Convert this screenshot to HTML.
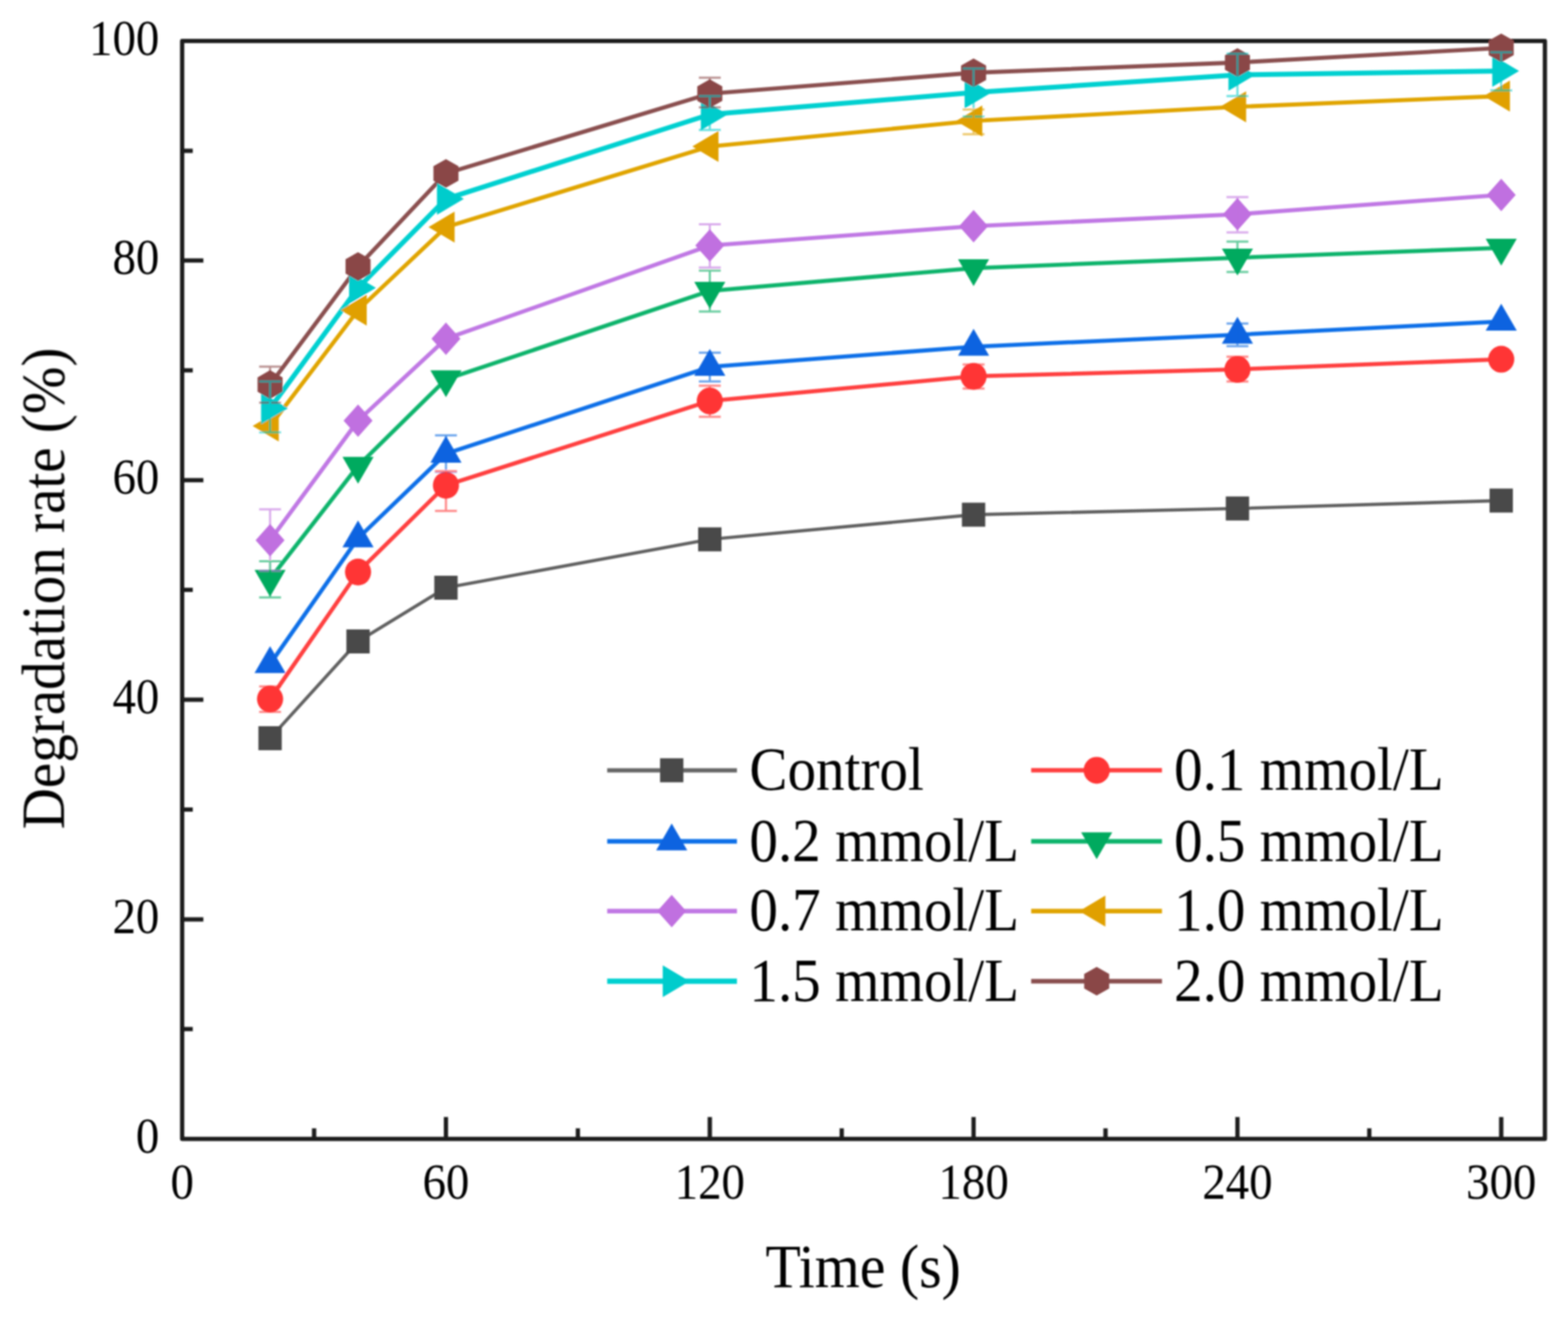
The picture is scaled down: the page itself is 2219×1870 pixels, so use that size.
<!DOCTYPE html><html><head><meta charset="utf-8"><title>Degradation rate vs time</title>
<style>html,body{margin:0;padding:0;background:#fff;overflow:hidden}svg{display:block}text{font-family:"Liberation Serif","Times New Roman",serif;fill:#000}</style></head><body>
<svg width="2219" height="1870" viewBox="0 0 2219 1870">
<defs><filter id="bl" x="0" y="0" width="2219" height="1870" filterUnits="userSpaceOnUse"><feGaussianBlur stdDeviation="0.8"/></filter></defs>
<rect width="2219" height="1870" fill="#fff"/>
<g filter="url(#bl)">
<g stroke="#1a1a1a" stroke-width="6.0" fill="none" stroke-linecap="butt">
<rect x="257.8" y="58.0" width="1928.5" height="1554.2" stroke-linejoin="round"/>
<path d="M257.8,1456.8h15 M257.8,1301.4h30 M257.8,1145.9h15 M257.8,990.5h30 M257.8,835.1h15 M257.8,679.7h30 M257.8,524.3h15 M257.8,368.8h30 M257.8,213.4h15 M444.5,1612.2v-15 M631.1,1612.2v-31 M817.8,1612.2v-15 M1004.5,1612.2v-31 M1191.2,1612.2v-15 M1377.8,1612.2v-31 M1564.5,1612.2v-15 M1751.2,1612.2v-31 M1937.8,1612.2v-15 M2124.5,1612.2v-31"/>
</g>
<g fill="none" stroke-linejoin="round" stroke-linecap="round">
<polyline stroke="#606060" stroke-width="4.6" points="382.2,1045.0 506.7,908.0 631.1,832.0 1004.5,763.5 1377.8,728.6 1751.2,719.8 2124.5,708.6"/>
<polyline stroke="#ff4040" stroke-width="5.8" points="382.2,989.5 506.7,809.8 631.1,687.0 1004.5,567.6 1377.8,532.7 1751.2,522.9 2124.5,508.6"/>
<polyline stroke="#1070e8" stroke-width="5.8" points="382.2,940.0 506.7,762.0 631.1,642.3 1004.5,519.4 1377.8,490.8 1751.2,473.8 2124.5,455.2"/>
<polyline stroke="#10b46c" stroke-width="5.8" points="382.2,819.5 506.7,659.5 631.1,537.0 1004.5,411.8 1377.8,379.6 1751.2,364.8 2124.5,350.8"/>
<polyline stroke="#c078e4" stroke-width="5.8" points="382.2,764.7 506.7,595.5 631.1,479.6 1004.5,347.5 1377.8,320.2 1751.2,303.3 2124.5,275.9"/>
<polyline stroke="#e0a400" stroke-width="5.8" points="382.2,603.0 506.7,439.0 631.1,321.4 1004.5,207.3 1377.8,171.2 1751.2,151.2 2124.5,136.0"/>
<polyline stroke="#00d0d0" stroke-width="7.0" points="382.2,578.0 506.7,407.6 631.1,281.6 1004.5,162.0 1377.8,131.0 1751.2,106.0 2124.5,100.4"/>
<polyline stroke="#8a5050" stroke-width="5.8" points="382.2,544.4 506.7,377.2 631.1,245.5 1004.5,132.5 1377.8,103.0 1751.2,88.5 2124.5,67.8"/>
</g>
<rect x="365.7" y="1028.0" width="33.0" height="34.0" fill="#4a4a4a"/>
<rect x="490.2" y="891.0" width="33.0" height="34.0" fill="#4a4a4a"/>
<rect x="614.6" y="815.0" width="33.0" height="34.0" fill="#4a4a4a"/>
<rect x="988.0" y="746.5" width="33.0" height="34.0" fill="#4a4a4a"/>
<rect x="1361.3" y="711.6" width="33.0" height="34.0" fill="#4a4a4a"/>
<rect x="1734.7" y="702.8" width="33.0" height="34.0" fill="#4a4a4a"/>
<rect x="2108.0" y="691.6" width="33.0" height="34.0" fill="#4a4a4a"/>
<ellipse cx="382.2" cy="989.5" rx="18.5" ry="19.0" fill="#ff3535"/>
<ellipse cx="506.7" cy="809.8" rx="18.5" ry="19.0" fill="#ff3535"/>
<ellipse cx="631.1" cy="687.0" rx="18.5" ry="19.0" fill="#ff3535"/>
<ellipse cx="1004.5" cy="567.6" rx="18.5" ry="19.0" fill="#ff3535"/>
<ellipse cx="1377.8" cy="532.7" rx="18.5" ry="19.0" fill="#ff3535"/>
<ellipse cx="1751.2" cy="522.9" rx="18.5" ry="19.0" fill="#ff3535"/>
<ellipse cx="2124.5" cy="508.6" rx="18.5" ry="19.0" fill="#ff3535"/>
<polygon points="382.2,914.7 404.2,952.7 360.2,952.7" fill="#0a64e0"/>
<polygon points="506.7,736.7 528.7,774.7 484.7,774.7" fill="#0a64e0"/>
<polygon points="631.1,617.0 653.1,655.0 609.1,655.0" fill="#0a64e0"/>
<polygon points="1004.5,494.1 1026.5,532.1 982.5,532.1" fill="#0a64e0"/>
<polygon points="1377.8,465.5 1399.8,503.5 1355.8,503.5" fill="#0a64e0"/>
<polygon points="1751.2,448.5 1773.2,486.5 1729.2,486.5" fill="#0a64e0"/>
<polygon points="2124.5,429.9 2146.5,467.9 2102.5,467.9" fill="#0a64e0"/>
<polygon points="382.2,844.8 404.2,806.8 360.2,806.8" fill="#00aa5e"/>
<polygon points="506.7,684.8 528.7,646.8 484.7,646.8" fill="#00aa5e"/>
<polygon points="631.1,562.3 653.1,524.3 609.1,524.3" fill="#00aa5e"/>
<polygon points="1004.5,437.1 1026.5,399.1 982.5,399.1" fill="#00aa5e"/>
<polygon points="1377.8,404.9 1399.8,366.9 1355.8,366.9" fill="#00aa5e"/>
<polygon points="1751.2,390.1 1773.2,352.1 1729.2,352.1" fill="#00aa5e"/>
<polygon points="2124.5,376.1 2146.5,338.1 2102.5,338.1" fill="#00aa5e"/>
<polygon points="382.2,741.7 402.7,764.7 382.2,787.7 361.7,764.7" fill="#c070e0"/>
<polygon points="506.7,572.5 527.2,595.5 506.7,618.5 486.2,595.5" fill="#c070e0"/>
<polygon points="631.1,456.6 651.6,479.6 631.1,502.6 610.6,479.6" fill="#c070e0"/>
<polygon points="1004.5,324.5 1025.0,347.5 1004.5,370.5 984.0,347.5" fill="#c070e0"/>
<polygon points="1377.8,297.2 1398.3,320.2 1377.8,343.2 1357.3,320.2" fill="#c070e0"/>
<polygon points="1751.2,280.3 1771.7,303.3 1751.2,326.3 1730.7,303.3" fill="#c070e0"/>
<polygon points="2124.5,252.9 2145.0,275.9 2124.5,298.9 2104.0,275.9" fill="#c070e0"/>
<polygon points="357.5,603.0 394.5,581.0 394.5,625.0" fill="#e0a000"/>
<polygon points="482.0,439.0 519.0,417.0 519.0,461.0" fill="#e0a000"/>
<polygon points="606.4,321.4 643.4,299.4 643.4,343.4" fill="#e0a000"/>
<polygon points="979.8,207.3 1016.8,185.3 1016.8,229.3" fill="#e0a000"/>
<polygon points="1353.1,171.2 1390.1,149.2 1390.1,193.2" fill="#e0a000"/>
<polygon points="1726.5,151.2 1763.5,129.2 1763.5,173.2" fill="#e0a000"/>
<polygon points="2099.8,136.0 2136.8,114.0 2136.8,158.0" fill="#e0a000"/>
<polygon points="407.5,578.0 369.5,555.5 369.5,600.5" fill="#00cccc"/>
<polygon points="532.0,407.6 494.0,385.1 494.0,430.1" fill="#00cccc"/>
<polygon points="656.4,281.6 618.4,259.1 618.4,304.1" fill="#00cccc"/>
<polygon points="1029.8,162.0 991.8,139.5 991.8,184.5" fill="#00cccc"/>
<polygon points="1403.1,131.0 1365.1,108.5 1365.1,153.5" fill="#00cccc"/>
<polygon points="1776.5,106.0 1738.5,83.5 1738.5,128.5" fill="#00cccc"/>
<polygon points="2149.8,100.4 2111.8,77.9 2111.8,122.9" fill="#00cccc"/>
<polygon points="382.2,524.1 399.9,534.2 399.9,554.5 382.2,564.7 364.5,554.5 364.5,534.2" fill="#8a4646"/>
<polygon points="506.7,356.9 524.4,367.1 524.4,387.3 506.7,397.5 489.0,387.3 489.0,367.1" fill="#8a4646"/>
<polygon points="631.1,225.2 648.8,235.3 648.8,255.7 631.1,265.8 613.4,255.7 613.4,235.3" fill="#8a4646"/>
<polygon points="1004.5,112.2 1022.2,122.3 1022.2,142.7 1004.5,152.8 986.8,142.7 986.8,122.3" fill="#8a4646"/>
<polygon points="1377.8,82.7 1395.5,92.8 1395.5,113.2 1377.8,123.3 1360.1,113.2 1360.1,92.8" fill="#8a4646"/>
<polygon points="1751.2,68.2 1768.9,78.3 1768.9,98.7 1751.2,108.8 1733.5,98.7 1733.5,78.3" fill="#8a4646"/>
<polygon points="2124.5,47.5 2142.2,57.6 2142.2,78.0 2124.5,88.1 2106.8,78.0 2106.8,57.6" fill="#8a4646"/>
<g stroke-width="3.0" fill="none" opacity="0.6">
<path stroke="#8a4646" d="M366.7,519.0H397.7M382.2,519.0V570.0M366.7,570.0H397.7"/>
<path stroke="#c070e0" d="M366.7,721.0H397.7M382.2,721.0V808.0M366.7,808.0H397.7"/>
<path stroke="#00aa5e" d="M366.7,794.6H397.7M382.2,794.6V845.7M366.7,845.7H397.7"/>
<path stroke="#ff3535" d="M366.7,971.7H397.7M382.2,971.7V1007.8M366.7,1007.8H397.7"/>
<path stroke="#00cccc" d="M366.7,540.0H397.7M382.2,540.0V612.0M366.7,612.0H397.7"/>
<path stroke="#0a64e0" d="M615.6,616.3H646.6M631.1,616.3V668.0M615.6,668.0H646.6"/>
<path stroke="#ff3535" d="M615.6,667.0H646.6M631.1,667.0V723.3M615.6,723.3H646.6"/>
<path stroke="#8a4646" d="M989.0,110.0H1020.0M1004.5,110.0V152.0M989.0,152.0H1020.0"/>
<path stroke="#c070e0" d="M989.0,317.6H1020.0M1004.5,317.6V378.8M989.0,378.8H1020.0"/>
<path stroke="#00aa5e" d="M989.0,382.9H1020.0M1004.5,382.9V441.0M989.0,441.0H1020.0"/>
<path stroke="#0a64e0" d="M989.0,499.2H1020.0M1004.5,499.2V540.0M989.0,540.0H1020.0"/>
<path stroke="#ff3535" d="M989.0,546.0H1020.0M1004.5,546.0V590.0M989.0,590.0H1020.0"/>
<path stroke="#00cccc" d="M989.0,136.0H1020.0M1004.5,136.0V184.0M989.0,184.0H1020.0"/>
<path stroke="#00cccc" d="M1362.3,97.0H1393.3M1377.8,97.0V165.0M1362.3,165.0H1393.3"/>
<path stroke="#e0a000" d="M1362.3,155.0H1393.3M1377.8,155.0V190.0M1362.3,190.0H1393.3"/>
<path stroke="#c070e0" d="M1735.7,279.0H1766.7M1751.2,279.0V329.0M1735.7,329.0H1766.7"/>
<path stroke="#00aa5e" d="M1735.7,342.0H1766.7M1751.2,342.0V385.0M1735.7,385.0H1766.7"/>
<path stroke="#0a64e0" d="M1735.7,458.0H1766.7M1751.2,458.0V490.0M1735.7,490.0H1766.7"/>
<path stroke="#ff3535" d="M1735.7,505.0H1766.7M1751.2,505.0V540.0M1735.7,540.0H1766.7"/>
<path stroke="#00cccc" d="M1735.7,76.0H1766.7M1751.2,76.0V136.0M1735.7,136.0H1766.7"/>
<path stroke="#00cccc" d="M2109.0,74.0H2140.0M2124.5,74.0V128.0M2109.0,128.0H2140.0"/>
<path stroke="#ff3535" d="M1362.3,516.0H1393.3M1377.8,516.0V550.0M1362.3,550.0H1393.3"/>
</g>
<text transform="translate(225.5,1631.7) scale(0.935,1)" font-size="71" text-anchor="end">0</text>
<text transform="translate(225.5,1320.9) scale(0.935,1)" font-size="71" text-anchor="end">20</text>
<text transform="translate(225.5,1010.0) scale(0.935,1)" font-size="71" text-anchor="end">40</text>
<text transform="translate(225.5,699.2) scale(0.935,1)" font-size="71" text-anchor="end">60</text>
<text transform="translate(225.5,388.3) scale(0.935,1)" font-size="71" text-anchor="end">80</text>
<text transform="translate(225.5,77.5) scale(0.935,1)" font-size="71" text-anchor="end">100</text>
<text transform="translate(257.8,1696.5) scale(0.935,1)" font-size="71" text-anchor="middle">0</text>
<text transform="translate(631.1,1696.5) scale(0.935,1)" font-size="71" text-anchor="middle">60</text>
<text transform="translate(1004.5,1696.5) scale(0.935,1)" font-size="71" text-anchor="middle">120</text>
<text transform="translate(1377.8,1696.5) scale(0.935,1)" font-size="71" text-anchor="middle">180</text>
<text transform="translate(1751.2,1696.5) scale(0.935,1)" font-size="71" text-anchor="middle">240</text>
<text transform="translate(2124.5,1696.5) scale(0.935,1)" font-size="71" text-anchor="middle">300</text>
<text transform="translate(1221.5,1821.5) scale(0.952,1)" font-size="86" text-anchor="middle">Time (s)</text>
<text transform="translate(90.5,833.0) rotate(-90) scale(0.94,1)" font-size="86" text-anchor="middle">Degradation rate (%)</text>
<line x1="859.3" y1="1090.4" x2="1042.9" y2="1090.4" stroke="#666666" stroke-width="6.0" stroke-linecap="butt"/>
<rect x="934.1" y="1073.4" width="33.0" height="34.0" fill="#4a4a4a"/>
<text transform="translate(1060.5,1117.9) scale(0.94,1)" font-size="86" text-anchor="start">Control</text>
<line x1="1459.3" y1="1090.4" x2="1644.4" y2="1090.4" stroke="#ff4040" stroke-width="6.4" stroke-linecap="butt"/>
<ellipse cx="1552.0" cy="1090.4" rx="18.5" ry="19.0" fill="#ff3535"/>
<text transform="translate(1661.5,1117.9) scale(0.94,1)" font-size="86" text-anchor="start">0.1 mmol/L</text>
<line x1="859.3" y1="1191" x2="1042.9" y2="1191" stroke="#1070e8" stroke-width="6.4" stroke-linecap="butt"/>
<polygon points="950.6,1165.7 972.6,1203.7 928.6,1203.7" fill="#0a64e0"/>
<text transform="translate(1060.5,1218.5) scale(0.94,1)" font-size="86" text-anchor="start">0.2 mmol/L</text>
<line x1="1459.3" y1="1191" x2="1644.4" y2="1191" stroke="#10b46c" stroke-width="6.4" stroke-linecap="butt"/>
<polygon points="1552.0,1216.3 1574.0,1178.3 1530.0,1178.3" fill="#00aa5e"/>
<text transform="translate(1661.5,1218.5) scale(0.94,1)" font-size="86" text-anchor="start">0.5 mmol/L</text>
<line x1="859.3" y1="1289.7" x2="1042.9" y2="1289.7" stroke="#c078e4" stroke-width="6.4" stroke-linecap="butt"/>
<polygon points="950.6,1266.7 971.1,1289.7 950.6,1312.7 930.1,1289.7" fill="#c070e0"/>
<text transform="translate(1060.5,1317.2) scale(0.94,1)" font-size="86" text-anchor="start">0.7 mmol/L</text>
<line x1="1459.3" y1="1289.7" x2="1644.4" y2="1289.7" stroke="#e0a400" stroke-width="6.4" stroke-linecap="butt"/>
<polygon points="1527.3,1289.7 1564.3,1267.7 1564.3,1311.7" fill="#e0a000"/>
<text transform="translate(1661.5,1317.2) scale(0.94,1)" font-size="86" text-anchor="start">1.0 mmol/L</text>
<line x1="859.3" y1="1389" x2="1042.9" y2="1389" stroke="#00d0d0" stroke-width="7.6" stroke-linecap="butt"/>
<polygon points="975.9,1389.0 937.9,1366.5 937.9,1411.5" fill="#00cccc"/>
<text transform="translate(1060.5,1416.5) scale(0.94,1)" font-size="86" text-anchor="start">1.5 mmol/L</text>
<line x1="1459.3" y1="1389" x2="1644.4" y2="1389" stroke="#8a5050" stroke-width="6.4" stroke-linecap="butt"/>
<polygon points="1552.0,1368.7 1569.7,1378.8 1569.7,1399.2 1552.0,1409.3 1534.3,1399.2 1534.3,1378.8" fill="#8a4646"/>
<text transform="translate(1661.5,1416.5) scale(0.94,1)" font-size="86" text-anchor="start">2.0 mmol/L</text>
</g></svg></body></html>
